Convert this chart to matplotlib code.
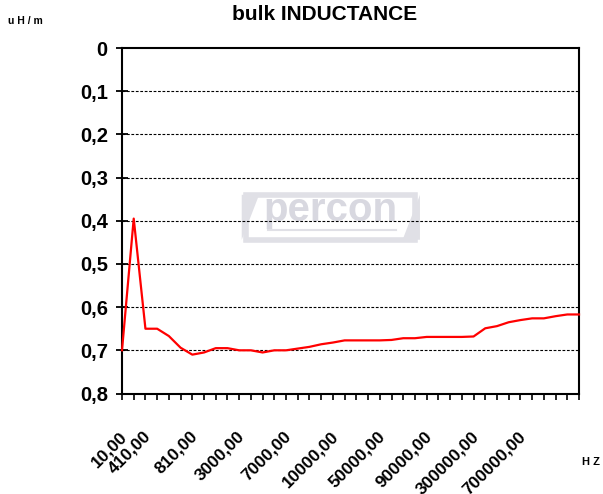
import matplotlib.pyplot as plt
import matplotlib.transforms as mtransforms
from matplotlib.patches import Rectangle, Polygon

# 字体
plt.rcParams['font.family'] = ['Liberation Sans', 'DejaVu Sans']
plt.rcParams['font.weight'] = 'bold'

# 数据 (40 个频率点, 每 4 个标一个)
freq_labels = ['10,00', '410,00', '810,00', '3000,00', '7000,00',
               '10000,00', '50000,00', '90000,00', '300000,00', '700000,00']
label_idx = [0, 2, 6, 10, 14, 18, 22, 26, 30, 34]
inductance = [0.70, 0.395, 0.65, 0.65, 0.667, 0.694, 0.71, 0.705, 0.695, 0.695,
              0.70, 0.70, 0.705, 0.70, 0.70, 0.696, 0.692, 0.686, 0.682, 0.677,
              0.677, 0.677, 0.677, 0.676, 0.672, 0.672, 0.669, 0.669, 0.669, 0.669,
              0.668, 0.649, 0.644, 0.635, 0.630, 0.626, 0.626, 0.621, 0.617, 0.617]
y_ticks = [0, 0.1, 0.2, 0.3, 0.4, 0.5, 0.6, 0.7, 0.8]

n = len(inductance)
x = list(range(n))

fig = plt.figure(figsize=(6.03, 4.94), dpi=100)
ax = fig.add_axes([122 / 603, 1 - 393.5 / 494, 457 / 603, 345.5 / 494])

# 水印
wm = '#e0e0e6'
ax.add_patch(Rectangle((0.272, 0.445), 0.37, 0.13, transform=ax.transAxes,
                       facecolor='none', edgecolor=wm, lw=4, zorder=0))
ax.add_patch(Polygon([(0.262, 0.445), (0.30, 0.575), (0.262, 0.575)], closed=True,
                     transform=ax.transAxes, facecolor=wm, edgecolor='none', zorder=0))
ax.add_patch(Polygon([(0.652, 0.445), (0.614, 0.445), (0.652, 0.575)], closed=True,
                     transform=ax.transAxes, facecolor=wm, edgecolor='none', zorder=0))
ax.text(0.457, 0.53, 'percon', transform=ax.transAxes, ha='center', va='center',
        fontsize=29, color='#d8d8e0', fontweight='bold', zorder=0)
ax.plot([0.32, 0.60], [0.472, 0.472], transform=ax.transAxes, color=wm, lw=1.5, zorder=0)

# 网格线
for v in y_ticks[1:-1]:
    ax.axhline(v, color='black', lw=0.8, linestyle=(0, (2.5, 1.5)), zorder=1)

# 曲线
ax.plot(x, inductance, color='#FF0000', lw=1.6, zorder=3, clip_on=False)

ax.set_xlim(0, n - 1)
ax.set_ylim(0.8, 0)

# Y 轴
ax.set_yticks(y_ticks)
ax.set_yticklabels([f'{v:g}'.replace('.', ',') for v in y_ticks], fontsize=14.5, fontweight='bold')
ax.tick_params(axis='y', direction='inout', length=8.5, width=1.3, pad=6)

# X 轴
xt_labels = [''] * n
for i, lab in zip(label_idx, freq_labels):
    xt_labels[i] = lab
ax.set_xticks(x)
ax.set_xticklabels(xt_labels, rotation=45, ha='right', va='top',
                   fontsize=12.5, fontweight='bold')
ax.tick_params(axis='x', direction='out', length=4.3, width=1.2, pad=21)
shift = mtransforms.ScaledTranslation(8 / 100, 0, fig.dpi_scale_trans)
for lab in ax.get_xticklabels():
    lab.set_transform(lab.get_transform() + shift)

for s in ax.spines.values():
    s.set_color('black')
    s.set_linewidth(1.5)

# 标题和单位
fig.text(325 / 603, 1 - 15 / 494, 'bulk INDUCTANCE', ha='center', va='center',
         fontsize=15, fontweight='bold')
fig.text(8 / 603, 1 - 21 / 494, 'u H / m', ha='left', va='center',
         fontsize=7.5, fontweight='bold')
fig.text(591 / 603, 1 - 462 / 494, 'H Z', ha='center', va='center',
         fontsize=8, fontweight='bold')

plt.savefig('out.png', dpi=100)
